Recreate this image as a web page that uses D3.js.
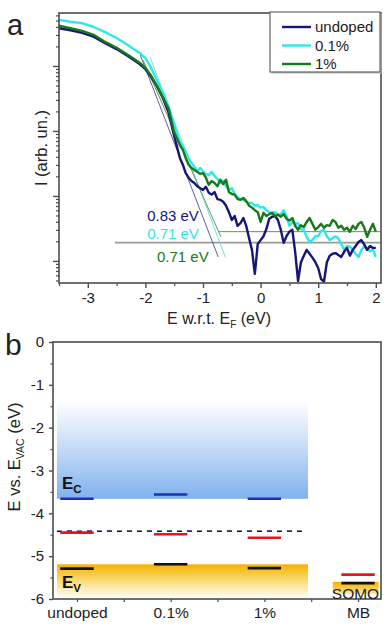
<!DOCTYPE html>
<html>
<head>
<meta charset="utf-8">
<script src="https://cdn.jsdelivr.net/npm/d3@7"></script>
<style>
  body { margin: 0; background: #fff; }
  svg { display: block; font-family: "Liberation Sans", Arial, sans-serif; }
  .tick text { fill: #222; }
</style>
</head>
<body>
<div id="chart"></div>
<script>
// ---- panel a: UPS cutoff, log10 of intensity ----
const energy = [-3.5, -3.3, -3.1, -2.9, -2.7, -2.5, -2.3, -2.1, -2.0, -1.9, -1.8, -1.7, -1.6, -1.5, -1.4,
  -1.35, -1.3, -1.25, -1.2, -1.15, -1.1, -1.05, -1.0, -0.95, -0.9, -0.85, -0.8, -0.75, -0.7, -0.65, -0.6,
  -0.55, -0.5, -0.45, -0.4, -0.35, -0.3, -0.25, -0.2, -0.15, -0.1, -0.05, 0.0, 0.05, 0.1, 0.15, 0.2,
  0.25, 0.3, 0.35, 0.4, 0.45, 0.5, 0.55, 0.6, 0.65, 0.7, 0.75, 0.8, 0.85, 0.9, 0.95, 1.0,
  1.05, 1.1, 1.15, 1.2, 1.25, 1.3, 1.35, 1.4, 1.45, 1.5, 1.55, 1.6, 1.65, 1.7, 1.75, 1.8,
  1.85, 1.9, 1.95, 2.0];

const logUndoped = [3.58, 3.55, 3.51, 3.45, 3.35, 3.26, 3.15, 3.03, 2.95, 2.83, 2.69, 2.51, 2.29, 1.92, 1.58,
  1.48, 1.35, 1.28, 1.23, 1.20, 1.15, 1.12, 1.09, 1.14, 1.05, 1.02, 1.06, 0.95, 0.94, 0.91, 0.85,
  0.75, 0.63, 0.69, 0.54, 0.58, 0.66, 0.54, 0.35, 0.17, -0.20, 0.26, 0.32, 0.38, 0.49, 0.65, 0.68,
  0.69, 0.63, 0.48, 0.28, 0.38, 0.45, 0.48, 0.14, -0.31, -0.02, 0.08, 0.17, 0.11, 0.05, -0.02, -0.11,
  -0.28, -0.32, -0.02, 0.08, 0.11, 0.12, 0.09, 0.06, 0.14, 0.20, 0.08, 0.17, 0.23, 0.29, 0.32, 0.25,
  0.17, 0.23, 0.20, 0.20];

const logDoped01 = [3.71, 3.68, 3.66, 3.60, 3.52, 3.43, 3.32, 3.20, 3.12, 2.97, 2.78, 2.60, 2.38, 2.09, 1.83,
  1.77, 1.68, 1.58, 1.51, 1.45, 1.38, 1.43, 1.38, 1.34, 1.32, 1.37, 1.31, 1.26, 1.20, 1.23, 1.14,
  1.09, 1.12, 1.03, 0.98, 0.95, 0.94, 0.91, 0.89, 0.89, 0.85, 0.86, 0.82, 0.83, 0.78, 0.75, 0.74,
  0.75, 0.71, 0.72, 0.78, 0.69, 0.54, 0.60, 0.57, 0.58, 0.49, 0.48, 0.37, 0.29, 0.32, 0.38, 0.38,
  0.46, 0.48, 0.38, 0.32, 0.35, 0.38, 0.35, 0.26, 0.17, 0.23, 0.22, 0.17, 0.11, 0.06, 0.17, 0.22,
  0.18, 0.15, 0.18, 0.06];

const logDoped1 = [3.62, 3.58, 3.54, 3.48, 3.37, 3.28, 3.17, 3.05, 2.97, 2.85, 2.69, 2.52, 2.35, 1.98, 1.78,
  1.71, 1.58, 1.48, 1.43, 1.40, 1.37, 1.34, 1.35, 1.28, 1.17, 1.23, 1.20, 1.15, 1.25, 1.18, 1.25,
  1.06, 1.03, 1.02, 0.95, 0.94, 0.97, 0.92, 0.85, 0.82, 0.78, 0.75, 0.60, 0.74, 0.69, 0.72, 0.74,
  0.69, 0.71, 0.68, 0.72, 0.65, 0.62, 0.66, 0.54, 0.48, 0.55, 0.52, 0.60, 0.66, 0.57, 0.48, 0.52,
  0.57, 0.51, 0.55, 0.54, 0.63, 0.60, 0.51, 0.54, 0.48, 0.51, 0.45, 0.54, 0.49, 0.57, 0.60, 0.51,
  0.37, 0.48, 0.57, 0.45];

const seriesNames = ["undoped", "0.1%", "1%"];

// linear fits of the cutoff edge and the background, [E, log10 I]
const fitUndoped = [[-2.09, 3.17], [-0.735, 0.06]];
const fitDoped01 = [[-1.92, 3.14], [-0.61, 0.05]];
const fitDoped1 = [[-2.04, 3.09], [-0.69, 0.37]];
const bgGrey = [[-2.53, 0.28], [2.09, 0.28]];
const bgDoped1 = [[-0.72, 0.45], [2.09, 0.45]];
const onsetLabels = ["0.83 eV", "0.71 eV", "0.71 eV"];

const xTicksA = [-3, -2, -1, 0, 1, 2];

// ---- panel b: energy levels vs vacuum ----
const samples = ["undoped", "0.1%", "1%", "MB"];
const ecLevels = [-3.66, -3.56, -3.66];
const efLevels = [-4.45, -4.49, -4.57, -5.43];
const evLevels = [-5.29, -5.19, -5.28, -5.63];
const fermiLine = -4.42;
const cbBand = [-1.36, -3.66];
const vbBand = [-5.19, -5.96];
const somoBand = [-5.60, -5.88];
const yTicksB = [0, -1, -2, -3, -4, -5, -6];

const W = 392, H = 625;
const A = {left: 59, top: 13, right: 381, bottom: 283};
const B = {left: 53, top: 342, right: 381, bottom: 599};
const colors = ["#15157a", "#2ee8e8", "#18791a"];
const frameColor = "#4d4d4d";

const svg = d3.select("#chart").append("svg")
  .attr("width", W)
  .attr("height", H);

const defs = svg.append("defs");
function gradient(id, stops) {
  const g = defs.append("linearGradient").attr("id", id)
    .attr("x1", 0).attr("y1", 0).attr("x2", 0).attr("y2", 1);
  stops.forEach(s => g.append("stop").attr("offset", s[0]).attr("stop-color", s[1]));
}
gradient("cbGrad", [[0, "#ffffff"], [0.5, "#c3daf6"], [1, "#80b1ee"]]);
gradient("vbGrad", [[0, "#f4b200"], [0.15, "#f6bf1e"], [0.55, "#fadf84"], [1, "#fffdf6"]]);
gradient("somoGrad", [[0, "#f4b300"], [0.6, "#f8cf55"], [1, "#fbe6a6"]]);

/* ---------- panel a ---------- */
const xA = d3.scaleLinear().domain([-3.5, 2.09]).range([A.left, A.right]);
const yA = d3.scaleLog().domain([Math.pow(10, -0.34), Math.pow(10, 3.815)]).range([A.bottom, A.top]);

const gA = svg.append("g");

// log-axis ticks: long for decades, short otherwise
const allLogTicks = yA.ticks();
const majorLog = allLogTicks.filter(t => Math.abs(Math.log10(t) - Math.round(Math.log10(t))) < 1e-9);
const minorLog = allLogTicks.filter(t => !majorLog.includes(t));

gA.append("g").attr("transform", `translate(${A.left},0)`)
  .call(d3.axisLeft(yA).tickValues(minorLog).tickSize(3).tickFormat(""))
  .call(g => g.select(".domain").remove())
  .selectAll("line").attr("stroke", frameColor).attr("stroke-width", 1.2);
gA.append("g").attr("transform", `translate(${A.left},0)`)
  .call(d3.axisLeft(yA).tickValues(majorLog).tickSize(6).tickFormat(""))
  .call(g => g.select(".domain").remove())
  .selectAll("line").attr("stroke", frameColor).attr("stroke-width", 1.4);

gA.append("g").attr("transform", `translate(0,${A.bottom})`)
  .call(d3.axisBottom(xA).tickValues(xTicksA.map(d => d - 0.5).concat([1.5])).tickSize(3).tickFormat(""))
  .call(g => g.select(".domain").remove())
  .selectAll("line").attr("stroke", frameColor).attr("stroke-width", 1.2);
gA.append("g").attr("transform", `translate(0,${A.bottom})`)
  .call(d3.axisBottom(xA).tickValues(xTicksA).tickSize(5).tickPadding(4).tickFormat(d => String(d)))
  .call(g => g.select(".domain").remove())
  .call(g => g.selectAll("line").attr("stroke", frameColor).attr("stroke-width", 1.4))
  .selectAll("text").attr("font-size", 15);

// curves
const clipA = defs.append("clipPath").attr("id", "clipA");
clipA.append("rect").attr("x", A.left).attr("y", A.top)
  .attr("width", A.right - A.left).attr("height", A.bottom - A.top);

const line = d3.line()
  .x(d => xA(d[0]))
  .y(d => yA(Math.pow(10, d[1])));

const plotA = gA.append("g").attr("clip-path", "url(#clipA)");

// thin fit lines under the data
[bgGrey].forEach(f => plotA.append("path").attr("d", line(f))
  .attr("stroke", "#9a9a9a").attr("stroke-width", 1.8).attr("fill", "none"));
[[fitUndoped, "#5f5f96"], [fitDoped01, "#6fdede"], [fitDoped1, "#5a9a5a"]].forEach(([f, c]) =>
  plotA.append("path").attr("d", line(f)).attr("stroke", c).attr("stroke-width", 1).attr("fill", "none"));
plotA.append("path").attr("d", line(bgDoped1))
  .attr("stroke", "#4e9e4e").attr("stroke-width", 1).attr("fill", "none");

const seriesData = [logUndoped, logDoped01, logDoped1];
// draw cyan first so undoped/green sit over it in the edge
[1, 0, 2].forEach(i => {
  plotA.append("path")
    .attr("d", line(energy.map((e, k) => [e, seriesData[i][k]])))
    .attr("fill", "none")
    .attr("stroke", colors[i])
    .attr("stroke-width", 2.4)
    .attr("stroke-linejoin", "round");
});

// onset labels
const labelPos = [[-1.97, 0.62], [-1.97, 0.34], [-1.80, -0.02]];
onsetLabels.forEach((t, i) => {
  gA.append("text")
    .attr("x", xA(labelPos[i][0]))
    .attr("y", yA(Math.pow(10, labelPos[i][1])))
    .attr("font-size", 15)
    .attr("fill", colors[i])
    .text(t);
});

gA.append("rect")
  .attr("x", A.left).attr("y", A.top)
  .attr("width", A.right - A.left).attr("height", A.bottom - A.top)
  .attr("fill", "none").attr("stroke", frameColor).attr("stroke-width", 1.6);

// legend
const leg = gA.append("g").attr("transform", "translate(270,12)");
leg.append("rect").attr("x", 1.5).attr("y", 1.5).attr("width", 110).attr("height", 60).attr("fill", "#bbb");
leg.append("rect").attr("width", 110).attr("height", 60)
  .attr("fill", "#fff").attr("stroke", "#666").attr("stroke-width", 1.2);
seriesNames.forEach((n, i) => {
  const y = 15 + i * 18.5;
  leg.append("line").attr("x1", 12).attr("x2", 41).attr("y1", y).attr("y2", y)
    .attr("stroke", colors[i]).attr("stroke-width", 2.4);
  leg.append("text").attr("x", 45).attr("y", y + 5).attr("font-size", 15).attr("fill", "#222").text(n);
});

// axis titles
const xTitle = gA.append("text").attr("x", 219).attr("y", 324)
  .attr("text-anchor", "middle").attr("font-size", 16).attr("fill", "#222");
xTitle.append("tspan").text("E w.r.t. E");
xTitle.append("tspan").attr("font-size", 10).attr("dy", 4).text("F");
xTitle.append("tspan").attr("dy", -4).text(" (eV)");

gA.append("text")
  .attr("transform", `translate(47,148) rotate(-90)`)
  .attr("text-anchor", "middle").attr("font-size", 16.5).attr("fill", "#222")
  .text("I (arb. un.)");

svg.append("text").attr("x", 7).attr("y", 35).attr("font-size", 29).attr("fill", "#222").text("a");

/* ---------- panel b ---------- */
const xB = d3.scaleLinear().domain([0.744, 4.245]).range([B.left, B.right]);
const yB = d3.scaleLinear().domain([-6, 0]).range([B.bottom, B.top]);
const gB = svg.append("g");
const half = 0.178;

// bands
gB.append("rect")
  .attr("x", xB(0.786)).attr("width", xB(3.466) - xB(0.786))
  .attr("y", yB(cbBand[0])).attr("height", yB(cbBand[1]) - yB(cbBand[0]))
  .attr("fill", "url(#cbGrad)");
gB.append("rect")
  .attr("x", xB(0.786)).attr("width", xB(3.466) - xB(0.786))
  .attr("y", yB(vbBand[0])).attr("height", yB(vbBand[1]) - yB(vbBand[0]))
  .attr("fill", "url(#vbGrad)");
gB.append("rect")
  .attr("x", xB(3.73)).attr("width", xB(4.22) - xB(3.73))
  .attr("y", yB(somoBand[0])).attr("height", yB(somoBand[1]) - yB(somoBand[0]))
  .attr("fill", "url(#somoGrad)");

// Fermi level of the contact, dashed black/navy
gB.append("line")
  .attr("x1", xB(0.786)).attr("x2", xB(3.42))
  .attr("y1", yB(fermiLine)).attr("y2", yB(fermiLine))
  .attr("stroke", "#111").attr("stroke-width", 1.6).attr("stroke-dasharray", "5 5");
gB.append("line")
  .attr("x1", xB(0.786)).attr("x2", xB(3.42))
  .attr("y1", yB(fermiLine)).attr("y2", yB(fermiLine))
  .attr("stroke", "#1a2a9a").attr("stroke-width", 1.6)
  .attr("stroke-dasharray", "5 15").attr("stroke-dashoffset", -10);

function levels(vals, color) {
  gB.selectAll(null).data(vals).join("line")
    .attr("x1", (d, i) => xB(i + 1 - half))
    .attr("x2", (d, i) => xB(i + 1 + half))
    .attr("y1", d => yB(d)).attr("y2", d => yB(d))
    .attr("stroke", color).attr("stroke-width", 2.6);
}
levels(ecLevels, "#1c30b8");
levels(efLevels, "#e8141c");
levels(evLevels, "#111111");

// axes
gB.append("g").attr("transform", `translate(${B.left},0)`)
  .call(d3.axisLeft(yB).tickValues(d3.range(-5.5, 0, 1)).tickSize(2.5).tickFormat(""))
  .call(g => g.select(".domain").remove())
  .selectAll("line").attr("stroke", frameColor).attr("stroke-width", 1.2);
gB.append("g").attr("transform", `translate(${B.left},0)`)
  .call(d3.axisLeft(yB).tickValues(yTicksB).tickSize(4).tickPadding(5).tickFormat(d => String(d)))
  .call(g => g.select(".domain").remove())
  .call(g => g.selectAll("line").attr("stroke", frameColor).attr("stroke-width", 1.4))
  .selectAll("text").attr("font-size", 15);

gB.append("g").attr("transform", `translate(0,${B.bottom})`)
  .call(d3.axisBottom(xB).tickValues([1.5, 2.5, 3.5]).tickSize(3).tickFormat(""))
  .call(g => g.select(".domain").remove())
  .selectAll("line").attr("stroke", frameColor).attr("stroke-width", 1.2);
gB.append("g").attr("transform", `translate(0,${B.bottom})`)
  .call(d3.axisBottom(xB).tickValues([1, 2, 3, 4]).tickSize(3).tickPadding(5).tickFormat(d => samples[d - 1]))
  .call(g => g.select(".domain").remove())
  .call(g => g.selectAll("line").attr("stroke", frameColor).attr("stroke-width", 1.2))
  .selectAll("text").attr("font-size", 15.5);

gB.append("rect")
  .attr("x", B.left).attr("y", B.top)
  .attr("width", B.right - B.left).attr("height", B.bottom - B.top)
  .attr("fill", "none").attr("stroke", frameColor).attr("stroke-width", 1.6);

// band labels
function subLabel(x, y, main, sub) {
  const t = gB.append("text").attr("x", x).attr("y", y)
    .attr("font-size", 17).attr("font-weight", "bold").attr("fill", "#111");
  t.append("tspan").text(main);
  t.append("tspan").attr("font-size", 11.5).attr("dy", 4).text(sub);
}
subLabel(xB(0.84), yB(-3.44), "E", "C");
subLabel(xB(0.84), yB(-5.75), "E", "V");

gB.append("text").attr("x", xB(3.72)).attr("y", yB(-6.0))
  .attr("font-size", 15.5).attr("fill", "#222").text("SOMO");

const yTitle = gB.append("text")
  .attr("transform", `translate(20,457) rotate(-90)`)
  .attr("text-anchor", "middle").attr("font-size", 16.5).attr("fill", "#222");
yTitle.append("tspan").text("E vs. E");
yTitle.append("tspan").attr("font-size", 10.5).attr("dy", 4).text("VAC");
yTitle.append("tspan").attr("dy", -4).text(" (eV)");

svg.append("text").attr("x", 5).attr("y", 355).attr("font-size", 30).attr("fill", "#222").text("b");
</script>
</body>
</html>
